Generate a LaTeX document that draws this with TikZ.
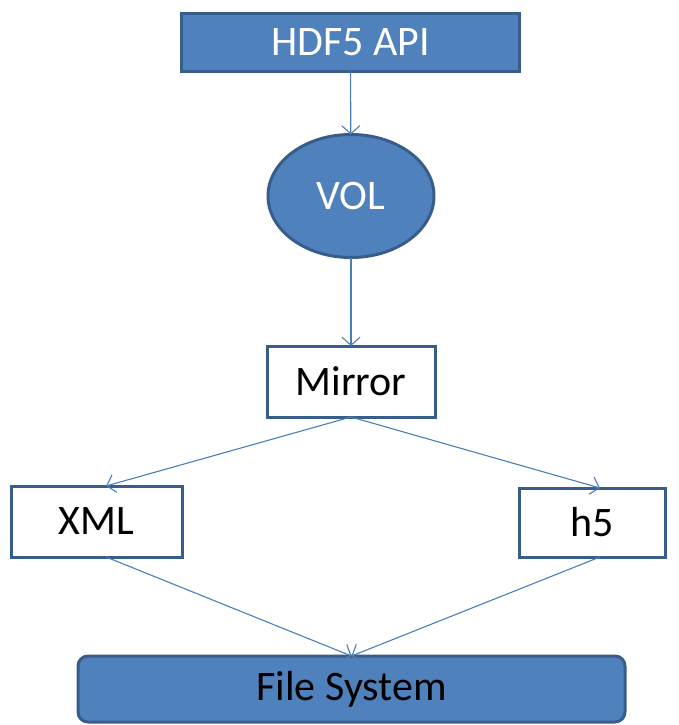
\documentclass[tikz,border=0pt]{standalone}
\usepackage{fontspec}
\setmainfont{Carlito}
\usetikzlibrary{shapes.geometric,arrows.meta}
\definecolor{boxfill}{HTML}{4F81BD}
\definecolor{boxline}{HTML}{385D8A}
\definecolor{arrowcol}{HTML}{4A7EBB}
\begin{document}
\begin{tikzpicture}[x=1pt,y=-1pt,
  every node/.style={inner sep=0pt, outer sep=0pt, font=\fontsize{42}{44}\selectfont},
  bluebox/.style={draw=boxline, line width=3pt, fill=boxfill, text=white},
  whitebox/.style={draw=boxline, line width=3pt, fill=white, text=black},
  conn/.style={draw=arrowcol, line width=1.1pt, -{Straight Barb[length=8pt,width=18pt,line width=1.1pt]}}]
\useasboundingbox (0,0) rectangle (679,725);
\node[bluebox, rectangle, minimum width=338pt, minimum height=57pt] (api) at (350.5,42.5) {HDF5 API};
\node[bluebox, ellipse, minimum width=166pt, minimum height=123pt] (vol) at (351,196) {VOL};
\node[whitebox, rectangle, minimum width=168pt, minimum height=71pt] (mirror) at (351,381.5) {Mirror};
\node[whitebox, rectangle, minimum width=171pt, minimum height=71pt] (xml) at (96.5,521.5) {XML};
\node[whitebox, rectangle, minimum width=146pt, minimum height=69pt] (h5) at (592,522.5) {h5};
\node[bluebox, rectangle, rounded corners=10pt, minimum width=547pt, minimum height=66pt, text=black] (fs) at (351.5,689) {File System};
\draw[conn] (api) -- (vol);
\draw[conn] (vol) -- (mirror);
\draw[conn] (mirror.south) -- (xml.75);
\draw[conn] (mirror.south) -- (h5.77);
\draw[conn] (xml.-75) -- (fs.north);
\draw[conn] (h5.-77) -- (fs.north);
\end{tikzpicture}
\end{document}
